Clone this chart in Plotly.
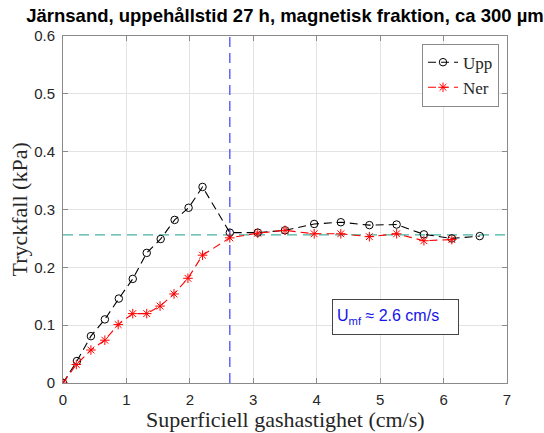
import plotly.graph_objects as go

# Data
upp_x = [0, 0.22, 0.44, 0.66, 0.88, 1.10, 1.32, 1.54, 1.76, 1.98, 2.20,
         2.63, 3.07, 3.50, 3.96, 4.38, 4.83, 5.26, 5.69, 6.13, 6.57]
upp_y = [0, 0.038, 0.081, 0.110, 0.146, 0.180, 0.225, 0.249, 0.282, 0.303, 0.339,
         0.260, 0.260, 0.264, 0.275, 0.278, 0.273, 0.274, 0.257, 0.250, 0.254]
ner_x = [0, 0.21, 0.44, 0.66, 0.87, 1.10, 1.32, 1.53, 1.75, 1.97, 2.20,
         2.63, 3.07, 3.50, 3.96, 4.38, 4.83, 5.26, 5.69, 6.13]
ner_y = [0, 0.032, 0.057, 0.074, 0.101, 0.120, 0.120, 0.133, 0.154, 0.181, 0.221,
         0.251, 0.259, 0.264, 0.258, 0.258, 0.253, 0.258, 0.246, 0.248]
u_mf = 2.63
dp_plateau = 0.256
x_range = [0, 7]
y_range = [0, 0.6]

title_text = "Järnsand, uppehållstid 27 h, magnetisk fraktion, ca 300 µm"
x_title = "Superficiell gashastighet (cm/s)"
y_title = "Tryckfall (kPa)"
note_text = "U<sub>mf</sub> ≈ 2.6 cm/s"

SERIF = "Liberation Serif, Times New Roman, serif"
SANS = "Liberation Sans, Arial, Helvetica, sans-serif"

W, H = 544, 433
ML, MR, MT, MB = 63, 37, 36, 50
PW, PH = W - ML - MR, H - MT - MB

fig = go.Figure()

# reference lines
fig.add_trace(go.Scatter(x=x_range, y=[dp_plateau, dp_plateau], mode="lines",
                         line=dict(color="rgb(70,178,160)", width=1.3, dash="10px,6px"),
                         showlegend=False, hoverinfo="skip"))
fig.add_trace(go.Scatter(x=[u_mf, u_mf], y=y_range, mode="lines",
                         line=dict(color="rgb(75,75,255)", width=1.3, dash="10px,6px"),
                         showlegend=False, hoverinfo="skip"))

fig.add_trace(go.Scatter(x=upp_x, y=upp_y, mode="lines+markers", name="Upp",
                         line=dict(color="black", width=1.1, dash="8px,5px"),
                         marker=dict(symbol="circle-open", size=7.5, color="black",
                                     line=dict(width=1, color="black"))))
fig.add_trace(go.Scatter(x=ner_x, y=ner_y, mode="lines+markers", name="Ner",
                         line=dict(color="red", width=1.1, dash="8px,5px"),
                         marker=dict(symbol="asterisk-open", size=8, color="red",
                                     line=dict(width=1, color="red"))))

axis_common = dict(
    showgrid=True, gridcolor="#e3e3e3", gridwidth=1,
    showline=True, linecolor="#8a8a8a", linewidth=1, mirror="ticks",
    ticks="inside", ticklen=5, tickcolor="#8a8a8a", tickwidth=1,
    zeroline=False,
    tickfont=dict(family=SANS, size=15, color="#262626"),
)

fig.update_xaxes(range=x_range, dtick=1, tick0=0, ticklabelstandoff=3, **axis_common)
fig.update_yaxes(range=y_range, dtick=0.1, tick0=0, ticklabelstandoff=4, **axis_common)

# axis titles
fig.add_annotation(x=0.5, y=-(419 - (MT + PH)) / PH, xref="paper", yref="paper",
                   text=x_title, showarrow=False, xanchor="center", yanchor="middle",
                   font=dict(family=SERIF, size=22, color="#262626"))
fig.add_annotation(x=-(ML - 19) / PW, y=0.5, xref="paper", yref="paper",
                   text=y_title, showarrow=False, textangle=-90,
                   xanchor="center", yanchor="middle",
                   font=dict(family=SERIF, size=22, color="#262626"))

fig.add_annotation(x=5.245, y=0.114, xref="x", yref="y",
                   text=note_text, showarrow=False,
                   font=dict(family=SANS, size=16, color="rgb(20,20,230)"),
                   align="left", width=117, height=26, borderpad=4,
                   bordercolor="#444", borderwidth=1, bgcolor="white")

fig.update_layout(
    width=W, height=H,
    margin=dict(l=ML, r=MR, t=MT, b=MB),
    plot_bgcolor="white", paper_bgcolor="white",
    title=dict(text=title_text, x=0.5, xref="paper", xanchor="center",
               y=1 - 16 / H, yref="container", yanchor="middle",
               font=dict(family=SANS, size=18.5, color="black", weight="bold")),
    legend=dict(x=0.982, y=0.978, xanchor="right", yanchor="top",
                bgcolor="white", bordercolor="#8a8a8a", borderwidth=1,
                font=dict(family=SERIF, size=17, color="#262626"),
                tracegroupgap=0, itemwidth=30),
    showlegend=True,
)

fig.write_html("out.html")
